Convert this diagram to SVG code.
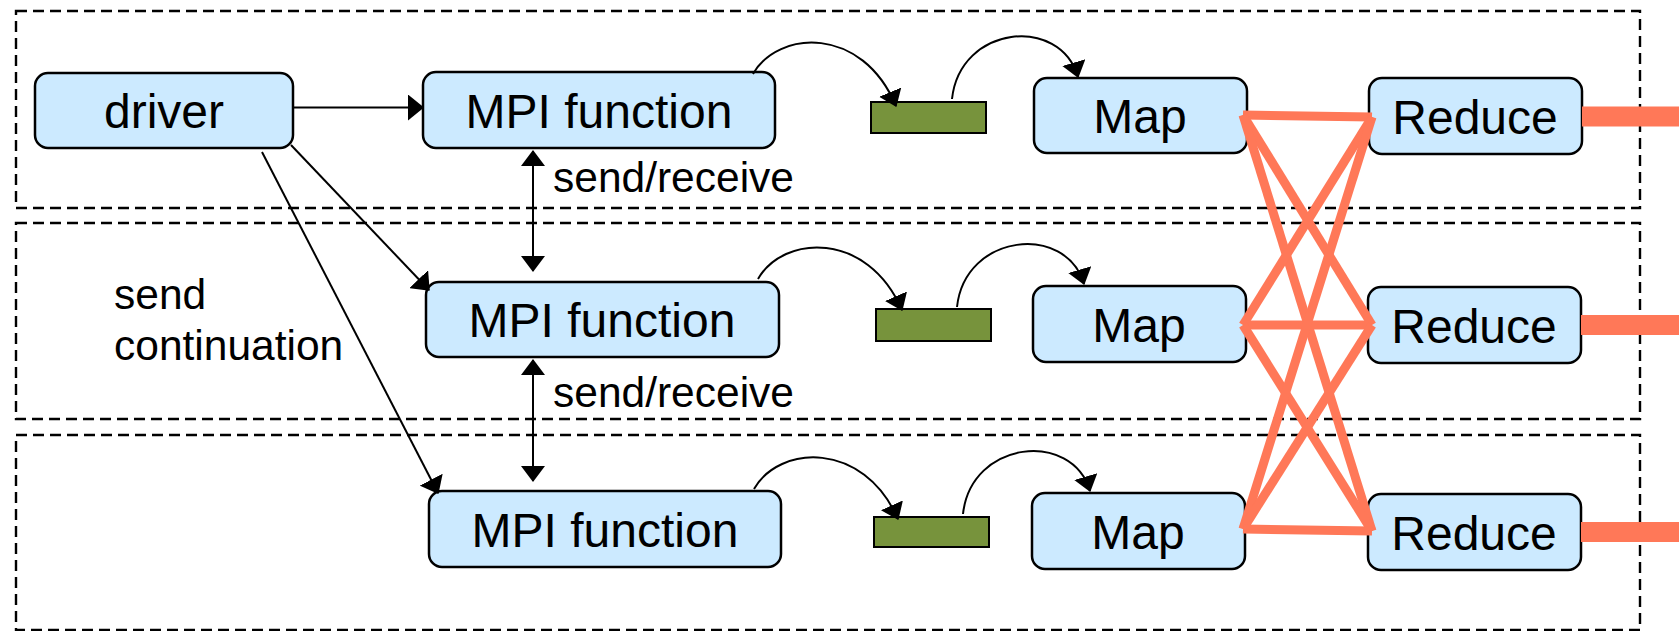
<svg xmlns="http://www.w3.org/2000/svg" width="1679" height="631" viewBox="0 0 1679 631">
<style>
.lane{fill:none;stroke:#000;stroke-width:2.4;stroke-dasharray:11 6}
.node{fill:#cceaff;stroke:#000;stroke-width:2.5}
.buf{fill:#77933c;stroke:#000;stroke-width:2}
.lbl{font-family:"Liberation Sans",Arial,sans-serif;font-size:48px;fill:#000;text-anchor:middle}
.ann{font-family:"Liberation Sans",Arial,sans-serif;font-size:42.5px;fill:#000}
.arr{fill:none;stroke:#000;stroke-width:2}
.shuf{stroke:#ff7858;stroke-width:9;stroke-linecap:butt}
.out{stroke:#ff7858;stroke-width:20}
</style>
<defs>
<marker id="ah" markerUnits="userSpaceOnUse" markerWidth="16" markerHeight="26" viewBox="0 0 16 26" refX="15" refY="13" orient="auto">
<path d="M0,0 L16,13 L0,26 z" fill="#000"/>
</marker>
<marker id="ahs" markerUnits="userSpaceOnUse" markerWidth="16" markerHeight="24" viewBox="0 0 16 24" refX="15" refY="12" orient="auto-start-reverse">
<path d="M0,0 L16,12 L0,24 z" fill="#000"/>
</marker>
</defs>
<rect width="1679" height="631" fill="#fff"/>
<g id="lanes">
<rect class="lane" x="16" y="11" width="1624" height="197"/>
<rect class="lane" x="16" y="223" width="1624" height="196"/>
<rect class="lane" x="16" y="435" width="1624" height="195"/>
</g>
<g id="driver"><rect class="node" x="35" y="73" width="258" height="75" rx="13"/><text class="lbl" x="164" y="128">driver</text></g>
<g id="mpi1"><rect class="node" x="423" y="72" width="352" height="76" rx="13"/><text class="lbl" x="599" y="128">MPI function</text></g>
<g id="mpi2"><rect class="node" x="426" y="282" width="353" height="75" rx="13"/><text class="lbl" x="602" y="337">MPI function</text></g>
<g id="mpi3"><rect class="node" x="429" y="491" width="352" height="76" rx="13"/><text class="lbl" x="605" y="547">MPI function</text></g>
<g id="buf1"><rect class="buf" x="871" y="102" width="115" height="31"/></g>
<g id="buf2"><rect class="buf" x="876" y="309" width="115" height="32"/></g>
<g id="buf3"><rect class="buf" x="874" y="517" width="115" height="30"/></g>
<g id="map1"><rect class="node" x="1034" y="78" width="213" height="75" rx="13"/><text class="lbl" x="1140" y="133">Map</text></g>
<g id="map2"><rect class="node" x="1033" y="286" width="213" height="76" rx="13"/><text class="lbl" x="1139" y="342">Map</text></g>
<g id="map3"><rect class="node" x="1032" y="493" width="213" height="76" rx="13"/><text class="lbl" x="1138" y="549">Map</text></g>
<g id="reduce1"><rect class="node" x="1369" y="78" width="213" height="76" rx="13"/><text class="lbl" x="1475" y="134">Reduce</text></g>
<g id="reduce2"><rect class="node" x="1368" y="287" width="213" height="76" rx="13"/><text class="lbl" x="1474" y="343">Reduce</text></g>
<g id="reduce3"><rect class="node" x="1368" y="494" width="213" height="76" rx="13"/><text class="lbl" x="1474" y="550">Reduce</text></g>
<g id="labels">
<text class="ann" x="553" y="192">send/receive</text>
<text class="ann" x="553" y="407">send/receive</text>
<text class="ann" x="114" y="309">send</text>
<text class="ann" x="114" y="360">continuation</text>
</g>
<g id="connectors">
<path class="arr" d="M293,107.5 L423,107.5" marker-end="url(#ah)"/>
<path class="arr" d="M291,145 L429,290" marker-end="url(#ah)"/>
<path class="arr" d="M262,152 L438,493" marker-end="url(#ah)"/>
<path class="arr" d="M533,151 L533,271" marker-start="url(#ahs)" marker-end="url(#ahs)"/>
<path class="arr" d="M533,360 L533,481" marker-start="url(#ahs)" marker-end="url(#ahs)"/>
<path class="arr" d="M753,74 C778,30 862,25 896,106" marker-end="url(#ahs)"/>
<path class="arr" d="M952,99 C960,25 1060,15 1078,77" marker-end="url(#ahs)"/>
<path class="arr" d="M758,279 C783,235 867,230 902,310" marker-end="url(#ahs)"/>
<path class="arr" d="M957,307 C965,233 1066,223 1084,284" marker-end="url(#ahs)"/>
<path class="arr" d="M754,489 C779,445 863,440 898,519" marker-end="url(#ahs)"/>
<path class="arr" d="M963,514 C971,440 1072,430 1090,491" marker-end="url(#ahs)"/>
<g id="shuffle">
<line class="shuf" x1="1243" y1="115" x2="1372" y2="117"/>
<line class="shuf" x1="1243" y1="115" x2="1372" y2="325"/>
<line class="shuf" x1="1243" y1="115" x2="1372" y2="531"/>
<line class="shuf" x1="1243" y1="325" x2="1372" y2="117"/>
<line class="shuf" x1="1243" y1="325" x2="1372" y2="325"/>
<line class="shuf" x1="1243" y1="325" x2="1372" y2="531"/>
<line class="shuf" x1="1243" y1="529" x2="1372" y2="117"/>
<line class="shuf" x1="1243" y1="529" x2="1372" y2="325"/>
<line class="shuf" x1="1243" y1="529" x2="1372" y2="531"/>
<line class="out" x1="1582" y1="116.5" x2="1679" y2="116.5"/>
<line class="out" x1="1581" y1="325" x2="1679" y2="325"/>
<line class="out" x1="1581" y1="532" x2="1679" y2="532"/>
</g>
</g>
</svg>
